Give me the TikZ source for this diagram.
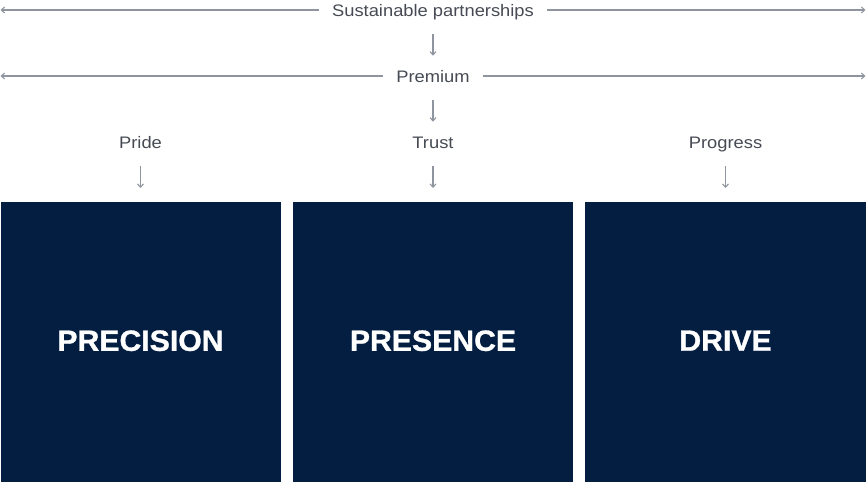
\documentclass[tikz,border=0pt]{standalone}
\usepackage{fontspec}
\usetikzlibrary{arrows.meta}
\newfontfamily\labfont[FakeStretch=1.1]{Liberation Sans}
\newfontfamily\boxfont[FakeStretch=1.03,FakeBold=1]{Liberation Sans Bold}
\definecolor{navy}{HTML}{041E42}
\definecolor{linegray}{HTML}{8F959E}
\definecolor{labgray}{HTML}{454A53}
\tikzset{
  lab/.style={font=\labfont\fontsize{12.5}{14}\selectfont,text=labgray,inner xsep=9.5pt,inner ysep=0pt,text height=9pt,text depth=2.5pt,anchor=base},
  pillar/.style={fill=navy,text=white,minimum width=210pt,minimum height=210pt,anchor=north,inner sep=0pt,text depth=2.5pt,font=\boxfont\fontsize{22}{24}\selectfont},
  rule/.style={draw=linegray,line width=0.8pt,-{Straight Barb[length=2.5pt,width=4.5pt]}},
  conn/.style={draw=linegray,line width=0.8pt,-{Straight Barb[length=2.5pt,width=4.5pt]},shorten <=11pt,shorten >=10.5pt}
}
\begin{document}
\begin{tikzpicture}[x=0.75pt,y=-0.75pt]
\useasboundingbox (0,0) rectangle (866,482);
\node[lab] (sp) at (433,16) {Sustainable partnerships};
\node[lab] (prem) at (433,82) {Premium};
\node[lab] (pride) at (140.5,148) {Pride};
\node[lab] (trust) at (433,148) {Trust};
\node[lab] (progress) at (725.5,148) {Progress};
\coordinate (l1w) at (0.5,10);
\coordinate (l1e) at (865.5,10);
\coordinate (l2w) at (0.5,76);
\coordinate (l2e) at (865.5,76);
\node[pillar] (bprec) at (140.5,202) {PRECISION};
\node[pillar] (bpres) at (433,202) {PRESENCE};
\node[pillar,minimum width=210.75pt] (bdrive) at (725.5,202) {DRIVE};
\draw[rule] (sp.west |- l1w) -- (l1w);
\draw[rule] (sp.east |- l1e) -- (l1e);
\draw[rule] (prem.west |- l2w) -- (l2w);
\draw[rule] (prem.east |- l2e) -- (l2e);
\draw[conn] (sp) -- (prem);
\draw[conn] (prem) -- (trust);
\draw[conn] (pride) -- (bprec);
\draw[conn] (trust) -- (bpres);
\draw[conn] (progress) -- (bdrive);
\end{tikzpicture}
\end{document}
